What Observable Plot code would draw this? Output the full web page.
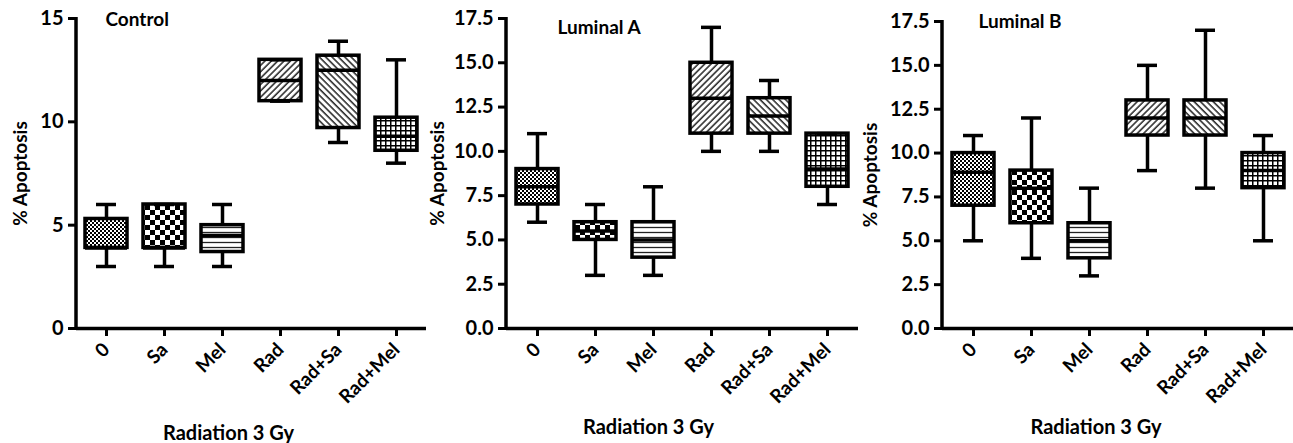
<!DOCTYPE html>
<html>
<head>
<meta charset="utf-8">
<script src="https://cdn.jsdelivr.net/npm/d3@7"></script>
<script src="https://cdn.jsdelivr.net/npm/@observablehq/plot@0.6"></script>
<style>
  html, body { margin: 0; padding: 0; background: white; }
  #wrap { display: flex; flex-direction: row; width: 1293px; height: 443px; overflow: hidden; }
  #wrap svg { display: block; }
</style>
</head>
<body>
<svg width="0" height="0" style="position:absolute">
  <defs>
    <pattern id="pat0" patternUnits="userSpaceOnUse" width="4" height="4">
      <rect width="4" height="4" fill="black"/>
      <rect x="0" y="0" width="2" height="2" fill="white"/>
      <rect x="2" y="2" width="2" height="2" fill="white"/>
    </pattern>
    <pattern id="pat1" patternUnits="userSpaceOnUse" width="10" height="10">
      <rect width="10" height="10" fill="white"/>
      <rect x="0" y="0" width="5" height="5" fill="black"/>
      <rect x="5" y="5" width="5" height="5" fill="black"/>
    </pattern>
    <pattern id="pat2" patternUnits="userSpaceOnUse" width="6" height="5">
      <rect width="6" height="5" fill="white"/>
      <line x1="0" y1="2.5" x2="6" y2="2.5" stroke="#222" stroke-width="1.3"/>
    </pattern>
    <pattern id="pat3" patternUnits="userSpaceOnUse" width="4.5" height="4.5" patternTransform="rotate(45)">
      <rect width="4.5" height="4.5" fill="white"/>
      <line x1="1" y1="0" x2="1" y2="4.5" stroke="#222" stroke-width="1.5"/>
    </pattern>
    <pattern id="pat4" patternUnits="userSpaceOnUse" width="4.5" height="4.5" patternTransform="rotate(-45)">
      <rect width="4.5" height="4.5" fill="white"/>
      <line x1="1" y1="0" x2="1" y2="4.5" stroke="#222" stroke-width="1.5"/>
    </pattern>
    <pattern id="pat5" patternUnits="userSpaceOnUse" width="5" height="5">
      <rect width="5" height="5" fill="black"/>
      <rect x="1.5" y="1.5" width="3.5" height="3.5" fill="white"/>
    </pattern>
  </defs>
</svg>
<div id="wrap"></div>
<script>
// ---- data ----
const categories = ["0", "Sa", "Mel", "Rad", "Rad+Sa", "Rad+Mel"];

const panelTitles = ["Control", "Luminal A", "Luminal B"];
const yLabel = "% Apoptosis";
const xLabel = "Radiation 3 Gy";

const controlMin    = [3,   3,   3,   11,   9,    8];
const controlQ1     = [3.9, 3.9, 3.7, 11,   9.7,  8.6];
const controlMedian = [3.9, 3.9, 4.5, 12,   12.5, 9.3];
const controlQ3     = [5.3, 6,   5,   13,   13.2, 10.2];
const controlMax    = [6,   6,   6,   13,   13.9, 13];

const lumAMin    = [6,  3,   3, 10, 10, 7];
const lumAQ1     = [7,  5,   4, 11, 11, 8];
const lumAMedian = [8,  5.5, 5, 13, 12, 9];
const lumAQ3     = [9,  6,   6, 15, 13, 11];
const lumAMax    = [11, 7,   8, 17, 14, 11];

const lumBMin    = [5,   4,  3, 9,  8,  5];
const lumBQ1     = [7,   6,  4, 11, 11, 8];
const lumBMedian = [8.9, 8,  5, 12, 12, 9];
const lumBQ3     = [10,  9,  6, 13, 13, 10];
const lumBMax    = [11,  12, 8, 15, 17, 11];

const controlTicks = [0, 5, 10, 15];
const luminalTicks = [0, 2.5, 5, 7.5, 10, 12.5, 15, 17.5];

// ---- build ----
function rows(mn, q1, md, q3, mx) {
  return categories.map((c, i) => ({cat: c, idx: i, min: mn[i], q1: q1[i], median: md[i], q3: q3[i], max: mx[i]}));
}

const panels = [
  {data: rows(controlMin, controlQ1, controlMedian, controlQ3, controlMax), title: panelTitles[0],
   width: 430, ml: 76, mr: 4, mt: 18, domain: [0, 15], ticks: controlTicks, fmt: d3.format("d"),
   titleDx: 29, titleDy: 1, yLabDx: -56, xLabDx: -23, xLabDy: 105},
  {data: rows(lumAMin, lumAQ1, lumAMedian, lumAQ3, lumAMax), title: panelTitles[1],
   width: 432, ml: 76, mr: 4, mt: 18, domain: [0, 17.5], ticks: luminalTicks, fmt: d3.format(".1f"),
   titleDx: 51, titleDy: 9, yLabDx: -69, xLabDx: -34, xLabDy: 99},
  {data: rows(lumBMin, lumBQ1, lumBMedian, lumBQ3, lumBMax), title: panelTitles[2],
   width: 431, ml: 80, mr: 0, mt: 21, domain: [0, 17.5], ticks: luminalTicks, fmt: d3.format(".1f"),
   titleDx: 36, titleDy: 0, yLabDx: -72, xLabDx: -22, xLabDy: 99}
];

const SW = 3.5;
const FONT = "Lato, 'Open Sans', sans-serif";
const wrap = document.getElementById("wrap");

for (const p of panels) {
  const H = 443, MB = 115;
  const chart = Plot.plot({
    width: p.width,
    height: H,
    marginLeft: p.ml,
    marginRight: p.mr,
    marginTop: p.mt,
    marginBottom: MB,
    style: {fontFamily: FONT, fontWeight: "bold", background: "white", color: "black", overflow: "visible"},
    x: {domain: categories, paddingInner: 0.28, paddingOuter: 0.14, label: null},
    y: {domain: p.domain, label: null},
    marks: [
      Plot.axisY({ticks: p.ticks, tickFormat: p.fmt, tickSize: 8, tickPadding: 5, strokeWidth: 3, fontSize: 20, fontWeight: "bold", label: null}),
      Plot.axisX({tickSize: 8, tickPadding: 10, tickRotate: -45, strokeWidth: 3, fontSize: 19, fontWeight: "bold", label: null}),
      Plot.ruleY([0], {strokeWidth: SW}),
      Plot.ruleX(p.data, {x: "cat", y1: "min", y2: "q1", strokeWidth: SW}),
      Plot.ruleX(p.data, {x: "cat", y1: "q3", y2: "max", strokeWidth: SW}),
      Plot.barY(p.data, {x: "cat", y1: "q1", y2: "q3", fill: d => `url(#pat${d.idx})`, stroke: "black", strokeWidth: SW}),
      Plot.tickY(p.data, {x: "cat", y: "median", strokeWidth: SW}),
      Plot.tickY(p.data, {x: "cat", y: "min", strokeWidth: SW, insetLeft: 11, insetRight: 11}),
      Plot.tickY(p.data, {x: "cat", y: "max", strokeWidth: SW, insetLeft: 11, insetRight: 11}),
      Plot.text([p.title], {frameAnchor: "top-left", textAnchor: "start", lineAnchor: "middle", dx: p.titleDx, dy: p.titleDy, fontSize: 19, fontWeight: "bold"}),
      Plot.text([yLabel], {frameAnchor: "left", textAnchor: "middle", lineAnchor: "middle", rotate: -90, dx: p.yLabDx, fontSize: 19, fontWeight: "bold"}),
      Plot.text([xLabel], {frameAnchor: "bottom", textAnchor: "middle", lineAnchor: "middle", dx: p.xLabDx, dy: p.xLabDy, fontSize: 20, fontWeight: "bold"})
    ]
  });
  // y axis line
  const y = chart.scale("y");
  d3.select(chart).append("line")
    .attr("x1", p.ml).attr("x2", p.ml)
    .attr("y1", y.range[1] - 1).attr("y2", y.range[0] + 1.5)
    .attr("stroke", "black").attr("stroke-width", SW);
  wrap.appendChild(chart);
}
</script>
</body>
</html>
